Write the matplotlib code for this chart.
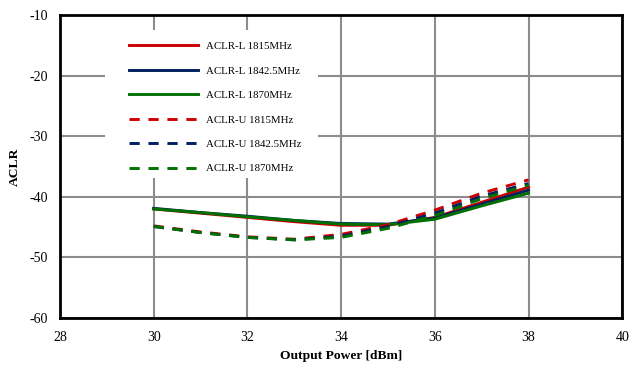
import matplotlib.pyplot as plt
from matplotlib.patches import Rectangle

plt.rcParams['font.family'] = ['Liberation Serif', 'DejaVu Serif']
plt.rcParams['axes.unicode_minus'] = False

power = [30, 31, 32, 33, 34, 35, 36, 37, 38]

aclr_l_1815 = [-42.0, -42.7, -43.4, -44.1, -44.7, -44.7, -43.4, -40.9, -38.4]
aclr_l_18425 = [-41.9, -42.6, -43.2, -43.9, -44.4, -44.5, -43.5, -41.2, -38.9]
aclr_l_1870 = [-42.0, -42.6, -43.3, -43.9, -44.5, -44.6, -43.7, -41.5, -39.4]
aclr_u_1815 = [-44.8, -45.8, -46.6, -47.0, -46.2, -44.6, -42.2, -39.4, -37.2]
aclr_u_18425 = [-44.9, -45.9, -46.7, -47.1, -46.5, -44.9, -42.7, -39.9, -37.8]
aclr_u_1870 = [-44.9, -45.9, -46.7, -47.1, -46.7, -45.2, -43.1, -40.3, -38.1]

labels = ["ACLR-L 1815MHz", "ACLR-L 1842.5MHz", "ACLR-L 1870MHz",
          "ACLR-U 1815MHz", "ACLR-U 1842.5MHz", "ACLR-U 1870MHz"]

red = "#cc0000"
blue = "#002060"
green = "#007000"
dash = (0, (3.5, 3))

fig = plt.figure(figsize=(6.32, 3.67), dpi=100)
ax = fig.add_axes([0.095, 0.1335, 0.8895, 0.8255])

ax.plot(power, aclr_l_1815, color=red, lw=2.1, label=labels[0])
ax.plot(power, aclr_l_18425, color=blue, lw=2.1, label=labels[1])
ax.plot(power, aclr_l_1870, color=green, lw=2.1, label=labels[2])
ax.plot(power, aclr_u_1815, color=red, lw=2.1, ls=dash, label=labels[3])
ax.plot(power, aclr_u_18425, color=blue, lw=2.1, ls=dash, label=labels[4])
ax.plot(power, aclr_u_1870, color=green, lw=2.1, ls=dash, label=labels[5])

ax.set_xlim(28, 40)
ax.set_ylim(-60, -10)
ax.set_xticks(range(28, 41, 2))
ax.set_yticks(range(-60, -9, 10))
ax.grid(True, color="#8c8c8c", lw=1.5)
ax.set_axisbelow(True)
ax.tick_params(length=0, labelsize=10)
ax.tick_params(axis="x", pad=9)
ax.tick_params(axis="y", pad=9)
for s in ax.spines.values():
    s.set_linewidth(2)
    s.set_color("black")

ax.set_xlabel("Output Power [dBm]", fontsize=9.7, fontweight="bold", labelpad=5)
ax.set_ylabel("ACLR", fontsize=9.7, fontweight="bold", labelpad=6)

# white box behind the legend, hiding the grid
ax.add_patch(Rectangle((0.080, 0.462), 0.379, 0.488, transform=ax.transAxes,
                       facecolor="white", edgecolor="none", zorder=1.5))

leg = ax.legend(loc="upper left", bbox_to_anchor=(0.1228, 0.912), borderaxespad=0,
                fontsize=7.8, handlelength=6.4, handletextpad=0.7,
                labelspacing=1.37, borderpad=0, frameon=False)

fig.savefig("out.png", dpi=100)
